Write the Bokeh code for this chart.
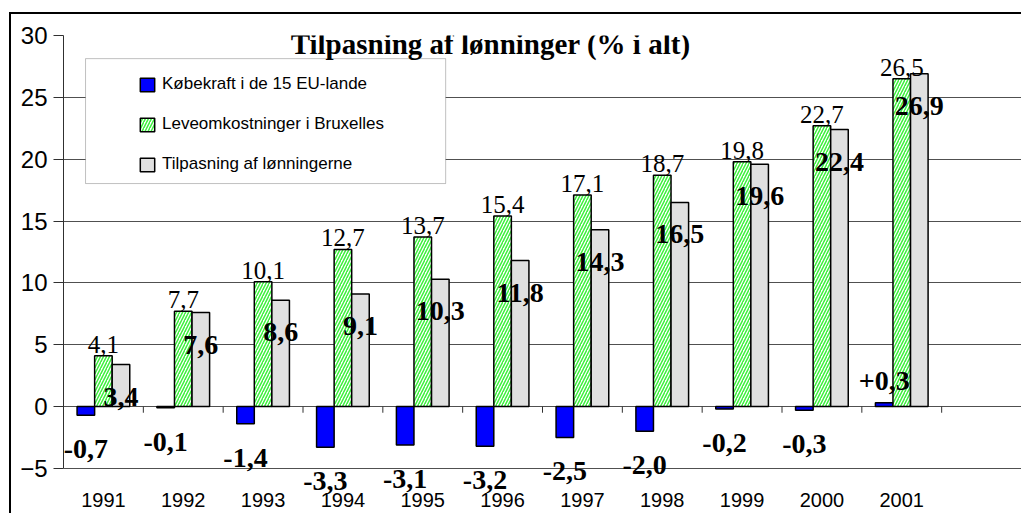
from bokeh.plotting import figure
from bokeh.models import (Range1d, FixedTicker, ColumnDataSource, Legend, LegendItem,
                          BoxAnnotation, Label, LabelSet)
from bokeh.embed import file_html
from bokeh.resources import INLINE

# ---- data ----
years = ["1991", "1992", "1993", "1994", "1995", "1996", "1997", "1998", "1999", "2000", "2001"]
kobekraft = [-0.7, -0.1, -1.4, -3.3, -3.1, -3.2, -2.5, -2.0, -0.2, -0.3, 0.3]
leveomk = [4.1, 7.7, 10.1, 12.7, 13.7, 15.4, 17.1, 18.7, 19.8, 22.7, 26.5]
tilpasning = [3.4, 7.6, 8.6, 9.1, 10.3, 11.8, 14.3, 16.5, 19.6, 22.4, 26.9]
series_names = ["Købekraft i de 15 EU-lande", "Leveomkostninger i Bruxelles", "Tilpasning af lønningerne"]
title_text = "Tilpasning af lønninger (% i alt)"
y_ticks = [-5, 0, 5, 10, 15, 20, 25, 30]

n_slots = len(years) + 1  # one empty slot at the right, as in the original
centers = [i + 0.5 for i in range(len(years))]
bw = 0.22

def fmt(v, sign=False):
    s = f"{v:+.1f}" if sign else f"{v:.1f}"
    return s.replace(".", ",")

SANS = "Liberation Sans"
SERIF = "Liberation Serif"

# the plot area reaches a little below -5 so that the lowest data labels are not clipped
p = figure(width=1012, height=501, output_backend="svg", toolbar_location=None,
           x_range=Range1d(0, n_slots), y_range=Range1d(-8, 30),
           min_border_left=52, min_border_right=2, min_border_top=21, min_border_bottom=10)
p.styles = {"margin-left": "9px", "margin-top": "12px",
            "border-top": "2px solid black", "border-left": "2px solid black"}
p.outline_line_color = None
p.background_fill_color = "white"
p.border_fill_color = "white"
p.xgrid.grid_line_color = None
p.ygrid.grid_line_color = "#505050"
p.ygrid.grid_line_width = 1
p.ygrid.ticker = FixedTicker(ticks=y_ticks)

# y axis
p.yaxis.ticker = FixedTicker(ticks=y_ticks)
p.yaxis.bounds = (-5, 30)
p.yaxis.axis_line_color = "#303030"
p.yaxis.major_tick_line_color = "#303030"
p.yaxis.major_tick_out = 10
p.yaxis.major_tick_in = 0
p.yaxis.minor_tick_line_color = None
p.yaxis.major_label_standoff = 6
p.yaxis.major_label_text_font = SANS
p.yaxis.major_label_text_font_size = "24px"
p.yaxis.major_label_text_color = "black"

# x axis: labels only, at the bottom
p.xaxis.ticker = FixedTicker(ticks=centers)
p.xaxis.major_label_overrides = {c: y for c, y in zip(centers, years)}
p.xaxis.axis_line_color = None
p.xaxis.major_tick_line_color = None
p.xaxis.major_tick_out = 0
p.xaxis.major_tick_in = 0
p.xaxis.minor_tick_line_color = None
p.xaxis.major_label_standoff = -13
p.xaxis.major_label_text_font = SANS
p.xaxis.major_label_text_font_size = "20px"
p.xaxis.major_label_text_color = "black"

# category boundary ticks on the zero line
bounds = list(range(n_slots + 1))
p.segment(x0=bounds, y0=[0] * len(bounds), x1=bounds, y1=[-0.5] * len(bounds),
          line_color="#303030", line_width=1)

src = ColumnDataSource(dict(
    xb=[c - bw for c in centers], xg=centers, xt=[c + bw for c in centers],
    kob=kobekraft, lev=leveomk, til=tilpasning,
    kob_lbl=[fmt(v, sign=v > 0) for v in kobekraft],
    lev_lbl=[fmt(v) for v in leveomk],
    til_lbl=[fmt(v) for v in tilpasning],
    kob_off=[-34 if v < 0 else 22 for v in kobekraft],
))

r_b = p.vbar(x="xb", top="kob", bottom=0, width=bw, source=src,
             fill_color="#0000ff", line_color="black", line_width=1.5)
r_g = p.vbar(x="xg", top="lev", bottom=0, width=bw, source=src,
             fill_color="white", hatch_pattern="/", hatch_color="#3cf03c",
             hatch_scale=6, hatch_weight=1.5, line_color="black", line_width=1.5)
r_t = p.vbar(x="xt", top="til", bottom=0, width=bw, source=src,
             fill_color="#e0e0e0", line_color="black", line_width=1.5)

# data labels
p.add_layout(LabelSet(x="xg", y="lev", text="lev_lbl", source=src, text_align="center",
                      text_baseline="bottom", y_offset=3, text_font=SERIF,
                      text_font_size="25px", text_color="black"))
p.add_layout(LabelSet(x="xt", y="til", text="til_lbl", source=src, text_align="center",
                      text_baseline="middle", y_offset=-32, text_font=SERIF,
                      text_font_size="28px", text_font_style="bold", text_color="black"))
p.add_layout(LabelSet(x="xb", y="kob", text="kob_lbl", source=src, text_align="center",
                      text_baseline="middle", y_offset="kob_off", text_font=SERIF,
                      text_font_size="28px", text_font_style="bold", text_color="black"))

# legend box + legend
box = BoxAnnotation(left=0.276, right=4.787, bottom=18.03, top=28.13,
                    fill_color="white", fill_alpha=1.0, line_color="#303030", line_width=1)
p.add_layout(box)
legend = Legend(items=[LegendItem(label=series_names[0], renderers=[r_b]),
                       LegendItem(label=series_names[1], renderers=[r_g]),
                       LegendItem(label=series_names[2], renderers=[r_t])],
                location=(75, 331), orientation="vertical",
                border_line_color=None, background_fill_alpha=0,
                padding=10, spacing=20, glyph_width=18, glyph_height=17,
                label_height=20, label_standoff=6,
                label_text_font=SANS, label_text_font_size="17px", label_text_color="black")
p.add_layout(legend, "center")

# title inside the plot area
p.add_layout(Label(x=5.35, y=29.35, text=title_text, text_align="center",
                   text_baseline="middle", text_font=SERIF, text_font_size="29px",
                   text_font_style="bold", text_color="black"))

open("out.html", "w").write(file_html(p, INLINE))
